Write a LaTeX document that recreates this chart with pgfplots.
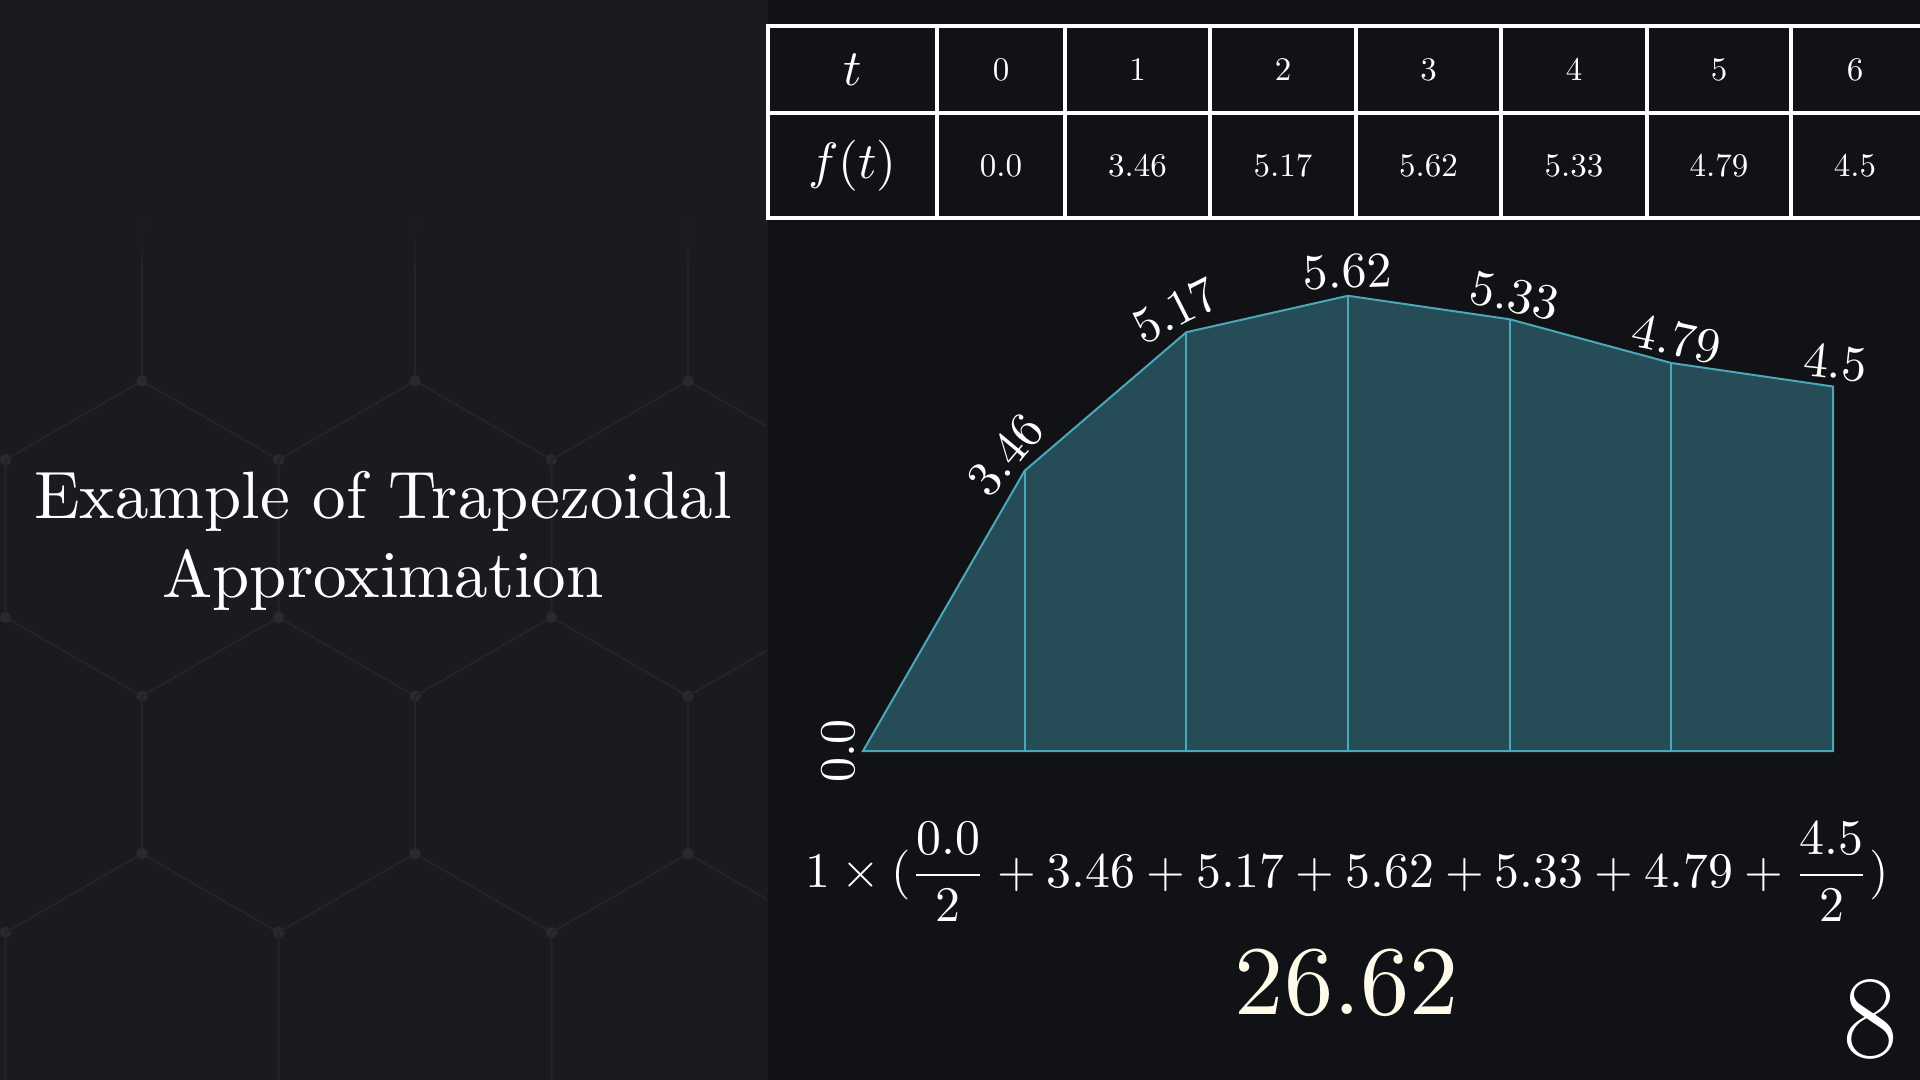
\RequirePackage{fix-cm}
\documentclass[border=0pt]{standalone}
\usepackage{amsmath}
\usepackage{fontspec}
\usepackage{pgfplots}
\usepackage{pgfplotstable}
\pgfplotsset{compat=1.18}
\definecolor{bgleft}{HTML}{1A1B1E}
\definecolor{bgright}{HTML}{111216}
\definecolor{hexline}{HTML}{23242A}
\definecolor{hexdot}{HTML}{292A30}
\definecolor{areafill}{HTML}{264C57}
\definecolor{linec}{HTML}{4AA8BB}
\definecolor{cream}{HTML}{FFFBEA}

\pgfplotstableread{
t f
0 0.0
1 3.46
2 5.17
3 5.62
4 5.33
5 4.79
6 4.5
}\datatable

\begin{document}
\begin{tikzpicture}
\begin{scope}[x=0.5pt,y=-0.5pt]
\path[use as bounding box] (0,0) rectangle (1920,1080);
\fill[bgright] (0,0) rectangle (1920,1080);
\fill[bgleft] (0,0) rectangle (768,1080);
% decorative hexagon background
\begin{scope}
\clip (0,190) rectangle (766,1080);
\foreach \r in {0,...,5}{
  \pgfmathsetmacro{\cy}{65.7+236.4*\r}
  \pgfmathsetmacro{\off}{mod(\r,2)*136.5}
  \foreach \k in {-1,...,3}{
    \pgfmathsetmacro{\cx}{142+273*\k+\off}
    \draw[hexline, line width=0.9pt] (\cx,\cy-157.6) -- (\cx+136.5,\cy-78.8) -- (\cx+136.5,\cy+78.8) -- (\cx,\cy+157.6) -- (\cx-136.5,\cy+78.8) -- (\cx-136.5,\cy-78.8) -- cycle;
    \fill[hexdot] (\cx,\cy-157.6) circle (2.8pt);
    \fill[hexdot] (\cx+136.5,\cy-78.8) circle (2.8pt);
    \fill[hexdot] (\cx+136.5,\cy+78.8) circle (2.8pt);
    \fill[hexdot] (\cx,\cy+157.6) circle (2.8pt);
  }
}
\end{scope}
\foreach \i in {0,...,7}{\fill[bgleft, opacity=0.25] (0,0) rectangle (766,195+10*\i);}

% title
\node[text=white, align=center, font=\fontsize{10}{11.8}\selectfont, scale=3.35] at (383,541) {Example of Trapezoidal\\Approximation};

% table
\draw[white, line width=1.8pt] (768,26) rectangle (1960,218);
\draw[white, line width=1.8pt] (768,113) -- (1960,113);
\foreach \xx in {937,1065,1210,1356,1501,1647,1791}{\draw[white, line width=1.8pt] (\xx,26) -- (\xx,218);}
\node[text=white, scale=2.55] at (852.5,69.5) {$t$};
\node[text=white, scale=2.55] at (852.5,165.5) {$f(t)$};
\foreach \xx/\tt/\ff in {1001/0/0.0, 1137.5/1/3.46, 1283/2/5.17, 1428.5/3/5.62, 1574/4/5.33, 1719/5/4.79, 1855/6/4.5}{
  \node[text=white, scale=1.65] at (\xx,69.5) {\tt};
  \node[text=white, scale=1.65] at (\xx,165.5) {\ff};
}

% formula and result
\node[text=white, scale=2.49] at (1347,872) {$1\times(\dfrac{0.0}{2}+3.46+5.17+5.62+5.33+4.79+\dfrac{4.5}{2})$};
\node[text=cream, scale=4.92] at (1347,983) {26.62};
\node[text=white, font=\fontsize{59}{70}\selectfont] at (1871,1019) {8};
\end{scope}

\begin{axis}[at={(431.5pt,-375.5pt)}, anchor=south west, scale only axis,
  width=485pt, height=243pt, xmin=0, xmax=6, ymin=0, ymax=6,
  hide axis, clip=false]
\addplot[fill=areafill, draw=linec, line width=1pt] table[x=t,y=f] {\datatable} \closedcycle;
\addplot[ycomb, draw=linec, line width=1pt, mark=none] table[x=t,y=f] {\datatable};
\tikzset{lab/.style={text=white, scale=2.5, anchor=south, inner sep=1.2pt}}
\node[lab, rotate=90] at (axis cs:0,0) {0.0};
\node[lab, rotate=50] at (axis cs:1,3.46) {3.46};
\node[lab, rotate=27] at (axis cs:2,5.17) {5.17};
\node[lab, rotate=2] at (axis cs:3,5.62) {5.62};
\node[lab, rotate=-12] at (axis cs:4,5.33) {5.33};
\node[lab, rotate=-12] at (axis cs:5,4.79) {4.79};
\node[lab, rotate=-6] at (axis cs:6,4.5) {4.5};
\end{axis}
\end{tikzpicture}
\end{document}
